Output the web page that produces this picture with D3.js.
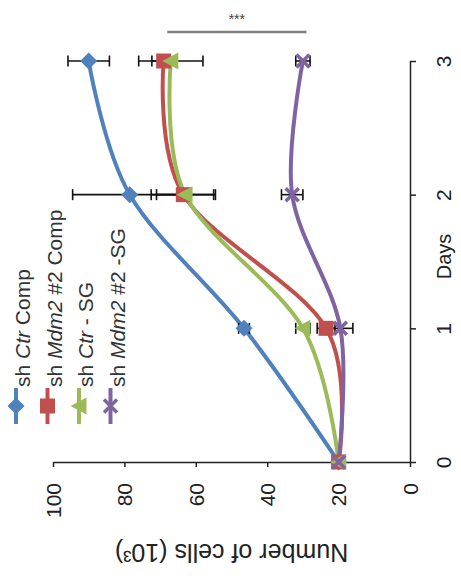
<!DOCTYPE html>
<html><head><meta charset="utf-8">
<script src="https://cdn.jsdelivr.net/npm/d3@7"></script>
<style>body{margin:0;background:#fff}svg{display:block;font-family:"Liberation Sans",Arial,sans-serif}</style>
</head><body>
<svg id="c" width="461" height="585"></svg>
<script>
// ---- data ----
const days = [0, 1, 2, 3];
const seriesNames = ["sh Ctr Comp", "sh Mdm2 #2 Comp", "sh Ctr - SG", "sh Mdm2 #2 -SG"];
const ctrComp    = [20, 46.5, 78.5, 90];
const ctrCompErr = [1, 1.5, 16, 5.8];
const mdmComp    = [20, 23.5, 63.5, 69];
const mdmCompErr = [1, 2.5, 9, 3.3];
const ctrSG      = [20, 30, 63, 67];
const ctrSGErr   = [1, 2, 8, 9];
const mdmSG      = [20, 19.5, 33, 30];
const mdmSGErr   = [1, 3.5, 3, 2];
const valueTicks = [0, 20, 40, 60, 80, 100];
const dayTicks = [0, 1, 2, 3];
const sigRange = [68, 29];
const sigLabel = "***";
const valueTitle = "Number of cells (10³)";
const dayTitle = "Days";

// ---- styles ----
const colors = ["#4F81BD", "#C0504D", "#9BBB59", "#8064A2"];
const shapes = ["diamond", "square", "triangle", "x"];
const values = [ctrComp, mdmComp, ctrSG, mdmSG];
const errs = [ctrCompErr, mdmCompErr, ctrSGErr, mdmSGErr];

const svg = d3.select("#c");
// value axis runs horizontally (rotated chart), days axis vertically
const x = d3.scaleLinear().domain([0, 100]).range([410, 53]);
const y = d3.scaleLinear().domain([0, 3]).range([462, 61]);

// value axis
const gx = svg.append("g").attr("transform", `translate(0,${y(0)})`)
  .call(d3.axisBottom(x).tickValues(valueTicks).tickFormat(d3.format("d")).tickSize(5).tickSizeOuter(0));
gx.select(".domain").attr("stroke", "#222").attr("stroke-width", 1.5);
gx.selectAll(".tick line").attr("stroke", "#222").attr("stroke-width", 1.5);
gx.selectAll(".tick text").attr("transform", "rotate(-90)")
  .attr("x", -21).attr("y", 0).attr("dy", "0.35em").attr("text-anchor", "end")
  .attr("font-size", 21).attr("fill", "#222").attr("font-family", "Liberation Sans, Arial, sans-serif");

// days axis
const gy = svg.append("g").attr("transform", `translate(${x(0)},0)`)
  .call(d3.axisRight(y).tickValues(dayTicks).tickFormat(d3.format("d")).tickSize(6).tickSizeOuter(0));
gy.select(".domain").attr("stroke", "#222").attr("stroke-width", 1.5);
gy.selectAll(".tick line").attr("stroke", "#222").attr("stroke-width", 1.5);
gy.selectAll(".tick text").attr("transform", "rotate(-90)")
  .attr("x", 0).attr("y", 34).attr("dy", "0.35em").attr("text-anchor", "middle")
  .attr("font-size", 21).attr("fill", "#222").attr("font-family", "Liberation Sans, Arial, sans-serif");

// axis titles
svg.append("text").attr("transform", `translate(${x(0) + 34},${(y(1) + y(2)) / 2 - 5}) rotate(-90)`)
  .attr("text-anchor", "middle").attr("dy", "0.35em").attr("font-size", 20).attr("fill", "#222")
  .text(dayTitle);
svg.append("text").attr("transform", `translate(${(x(0) + x(100)) / 2},553) rotate(180)`)
  .attr("text-anchor", "middle").attr("dy", "0.35em").attr("font-size", 25).attr("fill", "#222")
  .text(valueTitle);

// lines
const line = d3.line().x(d => x(d.v)).y(d => y(d.d)).curve(d3.curveCardinal.tension(0));
values.forEach((vals, i) => {
  svg.append("path").datum(days.map((d, j) => ({ d, v: vals[j] })))
    .attr("d", line).attr("fill", "none").attr("stroke", colors[i])
    .attr("stroke-width", 4).attr("stroke-linejoin", "round");
});

// error bars
values.forEach((vals, i) => {
  const g = svg.append("g").attr("stroke", "#111").attr("stroke-width", 1.6);
  days.forEach((d, j) => {
    const lo = vals[j] - errs[i][j], hi = vals[j] + errs[i][j], yy = y(d);
    g.append("line").attr("x1", x(lo)).attr("x2", x(hi)).attr("y1", yy).attr("y2", yy);
    g.append("line").attr("x1", x(lo)).attr("x2", x(lo)).attr("y1", yy - 5.5).attr("y2", yy + 5.5);
    g.append("line").attr("x1", x(hi)).attr("x2", x(hi)).attr("y1", yy - 5.5).attr("y2", yy + 5.5);
  });
});

function marker(g, shape, color) {
  if (shape === "diamond") g.append("path").attr("d", "M0,-8.5L8.5,0L0,8.5L-8.5,0Z").attr("fill", color);
  else if (shape === "square") g.append("rect").attr("x", -7.5).attr("y", -7.5).attr("width", 15).attr("height", 15).attr("fill", color);
  else if (shape === "triangle") g.append("path").attr("d", "M-8.5,0L7.5,-8.5L7.5,8.5Z").attr("fill", color);
  else {
    g.append("path").attr("d", "M-6.5,-6.5L6.5,6.5M-6.5,6.5L6.5,-6.5").attr("stroke", color).attr("stroke-width", 3.5).attr("fill", "none");
  }
}

// markers
values.forEach((vals, i) => {
  days.forEach((d, j) => {
    marker(svg.append("g").attr("transform", `translate(${x(vals[j])},${y(d)})`), shapes[i], colors[i]);
  });
});

// significance bar
svg.append("line").attr("x1", x(sigRange[0])).attr("x2", x(sigRange[1]))
  .attr("y1", y(3) - 29).attr("y2", y(3) - 29).attr("stroke", "#808080").attr("stroke-width", 2.5);
svg.append("text").attr("x", (x(sigRange[0]) + x(sigRange[1])) / 2).attr("y", y(3) - 37)
  .attr("text-anchor", "middle").attr("font-size", 14).attr("fill", "#444").text(sigLabel);

// legend
seriesNames.forEach((name, i) => {
  const cx = 16 + i * 31.5;
  const g = svg.append("g");
  g.append("line").attr("x1", cx).attr("x2", cx).attr("y1", 388).attr("y2", 424)
    .attr("stroke", colors[i]).attr("stroke-width", 4);
  marker(g.append("g").attr("transform", `translate(${cx},406)`), shapes[i], colors[i]);
  const t = g.append("text").attr("transform", `translate(${cx + 7},387) rotate(-90)`)
    .attr("dy", "0.35em").attr("font-size", 21).attr("fill", "#333");
  name.split(" ").forEach((w, k) => {
    t.append("tspan").attr("font-style", /Ctr|Mdm2/.test(w) ? "italic" : "normal")
      .text((k ? " " : "") + w);
  });
});
</script>
</body></html>
